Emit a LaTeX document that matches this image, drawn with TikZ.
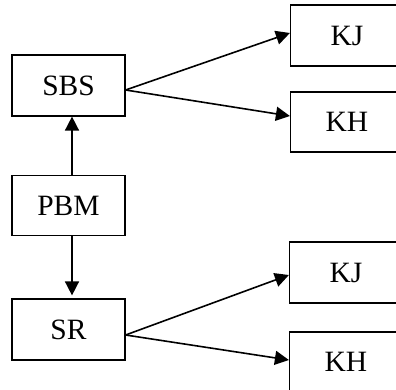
\documentclass[tikz,border=0pt]{standalone}
\usepackage{fontspec}
\setmainfont{Liberation Serif}
\usetikzlibrary{arrows.meta}
\tikzset{
  box/.style={draw, line width=1.2pt, minimum width=113pt, minimum height=61pt, inner sep=0pt, font=\fontsize{29.5}{30}\selectfont},
  arr/.style={line width=1.6pt, -{Triangle[length=14pt, width=14pt]}}
}
\begin{document}
\begin{tikzpicture}[x=1pt, y=-1pt]
\useasboundingbox (0,0) rectangle (396,390);
\clip (0,0) rectangle (396,390);
\node[box] (SBS) at (68.5,85.5) {SBS};
\node[box, minimum height=60pt] (PBM) at (68.5,205.5) {PBM};
\node[box] (SR) at (68.5,329.5) {SR};
\node[box] (KJa) at (347,35.5) {KJ};
\node[box, minimum height=60pt] (KHa) at (347,122) {KH};
\node[box] (KJb) at (346,272.5) {KJ};
\node[box, minimum height=60pt] (KHb) at (346,362) {KH};
\draw[arr] ([xshift=3.5pt]PBM.north) -- ([xshift=3.5pt]SBS.south);
\draw[arr] ([xshift=3.5pt]PBM.south) -- ([xshift=3.5pt,yshift=3pt]SR.north);
\draw[arr] ([yshift=-4.5pt]SBS.east) -- ([yshift=2.5pt]KJa.west);
\draw[arr] ([yshift=-4.5pt]SBS.east) -- ([yshift=6pt]KHa.west);
\draw[arr] ([yshift=-5.5pt]SR.east) -- ([yshift=-2.5pt]KJb.west);
\draw[arr] ([yshift=-5.5pt]SR.east) -- ([yshift=2pt]KHb.west);
\end{tikzpicture}
\end{document}
